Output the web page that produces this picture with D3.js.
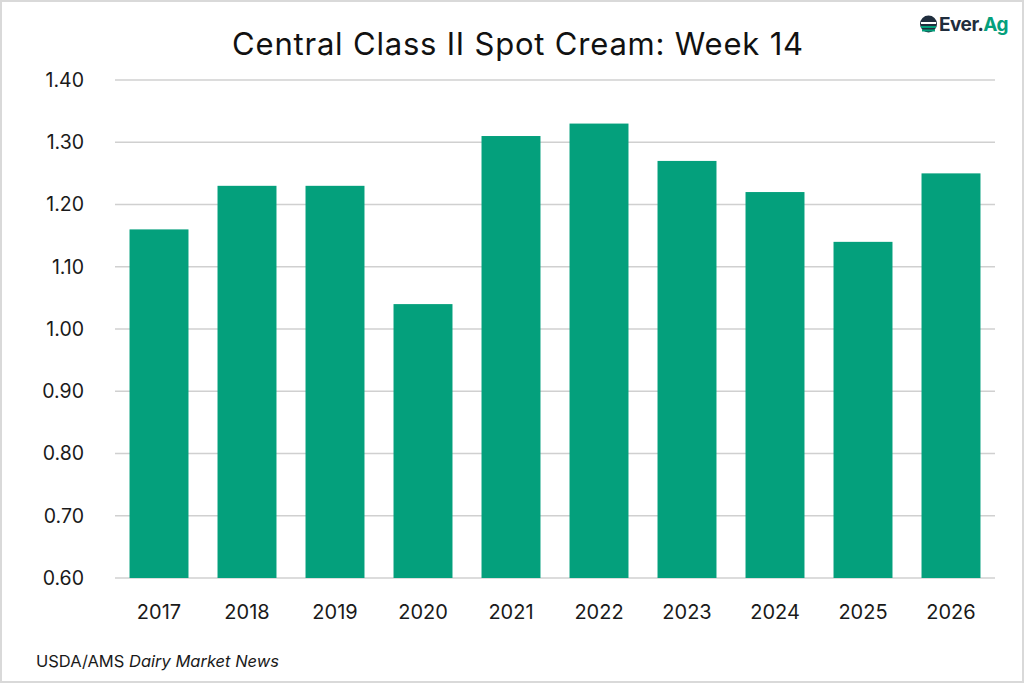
<!DOCTYPE html>
<html><head><meta charset="utf-8">
<script src="https://cdn.jsdelivr.net/npm/d3@7"></script>
<style>
html,body{margin:0;padding:0;background:#fff;}
svg{display:block;font-family:Inter,"Open Sans",sans-serif;}
</style></head>
<body>
<script>
const categories = ["2017","2018","2019","2020","2021","2022","2023","2024","2025","2026"];
const values = [1.16,1.23,1.23,1.04,1.31,1.33,1.27,1.22,1.14,1.25];
const yTicks = [0.60,0.70,0.80,0.90,1.00,1.10,1.20,1.30,1.40];
const title = "Central Class II Spot Cream: Week 14";

const W = 1024, H = 683;
const m = {left:115, right:29, top:80, bottom:105};
const svg = d3.select("body").append("svg").attr("width",W).attr("height",H);
svg.append("rect").attr("x",1).attr("y",1).attr("width",W-2).attr("height",H-2)
  .attr("fill","#fff").attr("stroke","#d9d9d9").attr("stroke-width",2);

const x = d3.scaleBand().domain(categories).range([m.left, W-m.right]).paddingInner(0.33).paddingOuter(0.165);
const y = d3.scaleLinear().domain([0.6,1.4]).range([H-m.bottom, m.top]);

// gridlines
svg.append("g").selectAll("line").data(yTicks).join("line")
  .attr("x1",m.left).attr("x2",W-m.right)
  .attr("y1",d=>y(d)).attr("y2",d=>y(d))
  .attr("stroke","#d0d0d0").attr("stroke-width",1.5);

// bars
svg.append("g").selectAll("rect").data(values).join("rect")
  .attr("x",(d,i)=>x(categories[i])).attr("width",x.bandwidth())
  .attr("y",d=>y(d)).attr("height",d=>y(0.6)-y(d))
  .attr("fill","#04a07c");

// y axis
const ya = svg.append("g").attr("transform",`translate(${m.left},0)`)
  .call(d3.axisLeft(y).tickValues(yTicks).tickFormat(d3.format(".2f")).tickSize(0).tickPadding(31));
ya.select(".domain").remove();
ya.selectAll("text").attr("font-size",19.5).attr("fill","#1a1a1a").attr("font-family","Inter,sans-serif");

// x axis
const xa = svg.append("g").attr("transform",`translate(0,${H-m.bottom})`)
  .call(d3.axisBottom(x).tickSize(0).tickPadding(27));
xa.select(".domain").remove();
xa.selectAll("text").attr("font-size",20).attr("fill","#1a1a1a").attr("font-family","Inter,sans-serif");

// title
svg.append("text").attr("x",518).attr("y",55).attr("text-anchor","middle")
  .attr("font-size",31).attr("letter-spacing",0.8).attr("fill","#111").text(title);

// source
const src = svg.append("text").attr("x",36).attr("y",667).attr("font-size",16.5).attr("fill","#1a1a1a");
src.append("tspan").text("USDA/AMS ");
src.append("tspan").attr("font-style","italic").text("Dairy Market News");

// logo
const lg = svg.append("g").attr("transform","translate(921,24)");
lg.append("circle").attr("cx",7.5).attr("cy",0).attr("r",8.5).attr("fill","#1f2d3d");
lg.append("path").attr("d","M0,-1 L15,-1").attr("stroke","#fff").attr("stroke-width",2);
lg.append("path").attr("d","M0,3 L15,3").attr("stroke","#04a07c").attr("stroke-width",2);
lg.append("path").attr("d","M1,6.5 L14,6.5").attr("stroke","#04a07c").attr("stroke-width",2);
const lt = lg.append("text").attr("x",18).attr("y",7).attr("font-size",19).attr("font-weight",700).attr("letter-spacing",-0.5);
lt.append("tspan").attr("fill","#1f2d3d").text("Ever.");
lt.append("tspan").attr("fill","#04a07c").text("Ag");
</script>
</body></html>
